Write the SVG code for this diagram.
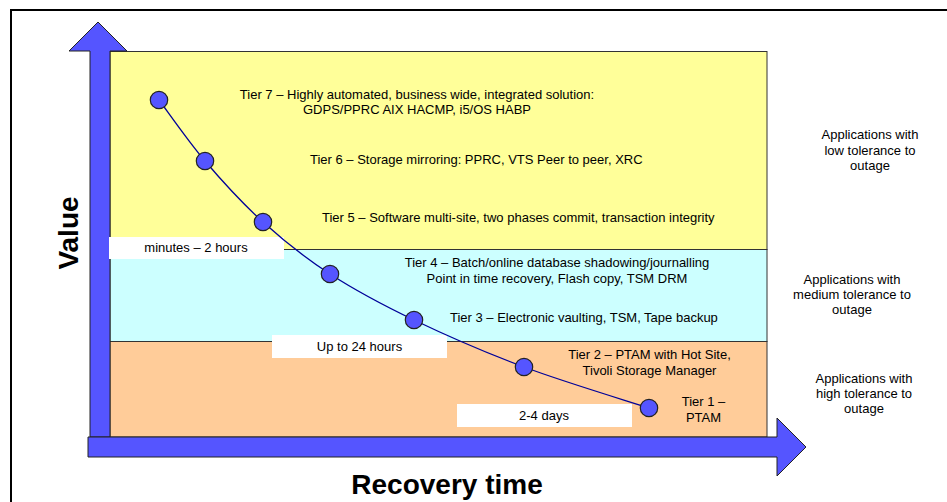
<svg xmlns="http://www.w3.org/2000/svg" width="947" height="502" viewBox="0 0 947 502">
<style>
text { font-family: "Liberation Sans", Arial, sans-serif; fill: #000; }
.t { font-size: 13px; }
.c { text-anchor: middle; }
.big { font-size: 28px; font-weight: bold; text-anchor: middle; }
.band { stroke: #333; stroke-width: 1; }
.arrow { fill: #5555FF; stroke: #222; stroke-width: 1; }
.dot { fill: #5555FF; stroke: #222; stroke-width: 1.2; }
.lbl { fill: #fff; stroke: none; }
</style>
<rect width="947" height="502" fill="#fff"/>
<rect x="11" y="10" width="980" height="540" fill="none" stroke="#000" stroke-width="2"/>
<g id="bands">
<rect id="band-low" class="band" x="110" y="51.5" width="657" height="198" fill="#FFFF99"/>
<rect id="band-medium" class="band" x="110" y="249.5" width="657" height="92" fill="#CCFFFF"/>
<rect id="band-high" class="band" x="110" y="341.5" width="657" height="95.5" fill="#FFCC99"/>
</g>
<g id="value-axis">
<polygon class="arrow" points="90,437 90,51 69,51 98,22 127,51 110,51 110,437"/>
</g>
<g id="time-axis">
<polygon class="arrow" points="88,437 777,437 777,418 806,447 777,476 777,457 88,457"/>
</g>
<g id="labels-time">
<g id="lbl-minutes"><rect class="lbl" x="109" y="237" width="175" height="22"/><text class="t c" x="196" y="252">minutes – 2 hours</text></g>
<g id="lbl-24h"><rect class="lbl" x="272" y="335" width="175" height="23"/><text class="t c" x="359.5" y="351">Up to 24 hours</text></g>
<g id="lbl-days"><rect class="lbl" x="457" y="404" width="175" height="23"/><text class="t c" x="544" y="420">2-4 days</text></g>
</g>
<g id="connectors">
<path d="M159,100 C166.7,110.2 187.7,140.7 205,161 C222.3,181.3 242.2,203.2 263,222 C283.8,240.8 304.8,257.7 330,274 C355.2,290.3 381.7,304.5 414,320 C446.3,335.5 484.8,352.3 524,367 C563.2,381.7 628.2,401.2 649,408" fill="none" stroke="#000099" stroke-width="1.3"/>
</g>
<g id="tier7"><circle class="dot" cx="159" cy="100" r="8.7"/><text class="t c" x="417" y="99">Tier 7 – Highly automated, business wide, integrated solution:</text><text class="t c" x="417" y="114">GDPS/PPRC AIX HACMP, i5/OS HABP</text></g>
<g id="tier6"><circle class="dot" cx="205" cy="161" r="8.7"/><text class="t" x="310" y="164">Tier 6 – Storage mirroring: PPRC, VTS Peer to peer, XRC</text></g>
<g id="tier5"><circle class="dot" cx="263" cy="222" r="8.7"/><text class="t" x="322" y="222">Tier 5 – Software multi-site, two phases commit, transaction integrity</text></g>
<g id="tier4"><circle class="dot" cx="330" cy="274" r="8.7"/><text class="t c" x="557" y="267">Tier 4 – Batch/online database shadowing/journalling</text><text class="t c" x="557" y="283">Point in time recovery, Flash copy, TSM DRM</text></g>
<g id="tier3"><circle class="dot" cx="414" cy="320" r="8.7"/><text class="t" x="450" y="322">Tier 3 – Electronic vaulting, TSM, Tape backup</text></g>
<g id="tier2"><circle class="dot" cx="524" cy="367" r="8.7"/><text class="t c" x="649.5" y="359">Tier 2 – PTAM with Hot Site,</text><text class="t c" x="649.5" y="375">Tivoli Storage Manager</text></g>
<g id="tier1"><circle class="dot" cx="649" cy="408" r="8.7"/><text class="t c" x="703.5" y="406">Tier 1 –</text><text class="t c" x="703.5" y="422">PTAM</text></g>
<g id="tolerance-low"><text class="t c" x="870" y="139">Applications with</text><text class="t c" x="870" y="155">low tolerance to</text><text class="t c" x="870" y="170">outage</text></g>
<g id="tolerance-medium"><text class="t c" x="852" y="284">Applications with</text><text class="t c" x="852" y="299">medium tolerance to</text><text class="t c" x="852" y="314">outage</text></g>
<g id="tolerance-high"><text class="t c" x="864" y="383">Applications with</text><text class="t c" x="864" y="398">high tolerance to</text><text class="t c" x="864" y="413">outage</text></g>
<g id="axis-titles">
<text class="big" x="78" y="233" transform="rotate(-90 78 233)">Value</text>
<text class="big" x="447" y="494">Recovery time</text>
</g>
</svg>
